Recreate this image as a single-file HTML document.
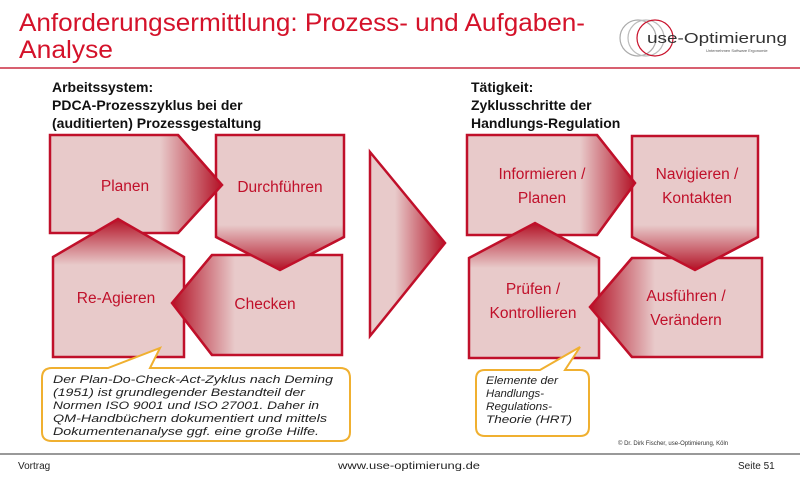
<!DOCTYPE html>
<html><head><meta charset="utf-8"><style>
body{margin:0;background:#fff;width:800px;height:474px;overflow:hidden;font-family:"Liberation Sans",sans-serif}
</style></head><body>
<svg width="800" height="474" xmlns="http://www.w3.org/2000/svg" font-family="Liberation Sans, sans-serif">
<defs>
<linearGradient id="gR1" gradientUnits="userSpaceOnUse" x1="160" y1="0" x2="222" y2="0"><stop offset="0" stop-color="#e8caca"/><stop offset="1" stop-color="#b31226"/></linearGradient>
<linearGradient id="gD1" gradientUnits="userSpaceOnUse" x1="0" y1="225" x2="0" y2="270"><stop offset="0" stop-color="#e8caca"/><stop offset="1" stop-color="#b31226"/></linearGradient>
<linearGradient id="gL1" gradientUnits="userSpaceOnUse" x1="235" y1="0" x2="172" y2="0"><stop offset="0" stop-color="#e8caca"/><stop offset="1" stop-color="#b31226"/></linearGradient>
<linearGradient id="gU1" gradientUnits="userSpaceOnUse" x1="0" y1="265" x2="0" y2="219"><stop offset="0" stop-color="#e8caca"/><stop offset="1" stop-color="#b31226"/></linearGradient>
<linearGradient id="gR2" gradientUnits="userSpaceOnUse" x1="580" y1="0" x2="635" y2="0"><stop offset="0" stop-color="#e8caca"/><stop offset="1" stop-color="#b31226"/></linearGradient>
<linearGradient id="gD2" gradientUnits="userSpaceOnUse" x1="0" y1="225" x2="0" y2="270"><stop offset="0" stop-color="#e8caca"/><stop offset="1" stop-color="#b31226"/></linearGradient>
<linearGradient id="gL2" gradientUnits="userSpaceOnUse" x1="655" y1="0" x2="590" y2="0"><stop offset="0" stop-color="#e8caca"/><stop offset="1" stop-color="#b31226"/></linearGradient>
<linearGradient id="gU2" gradientUnits="userSpaceOnUse" x1="0" y1="268" x2="0" y2="223"><stop offset="0" stop-color="#e8caca"/><stop offset="1" stop-color="#b31226"/></linearGradient>
<linearGradient id="gT" gradientUnits="userSpaceOnUse" x1="395" y1="0" x2="445" y2="0"><stop offset="0" stop-color="#e8caca"/><stop offset="1" stop-color="#b31226"/></linearGradient>
</defs>
<!-- header -->
<text x="19" y="31" font-size="25" fill="#d4122a" textLength="566" lengthAdjust="spacingAndGlyphs">Anforderungsermittlung: Prozess- und Aufgaben-</text>
<text x="19" y="58" font-size="25" fill="#d4122a" textLength="94" lengthAdjust="spacingAndGlyphs">Analyse</text>
<g fill="none" stroke-width="1.2">
<circle cx="638" cy="38" r="18" stroke="#aaa"/><circle cx="646" cy="38" r="18" stroke="#bbb"/><circle cx="655" cy="38" r="18" stroke="#c8102a"/>
</g>
<text x="647" y="43" font-size="15" fill="#333" textLength="140" lengthAdjust="spacingAndGlyphs">use-Optimierung</text>
<text x="706" y="52" font-size="4" fill="#555">Unternehmen Software Ergonomie</text>
<rect x="0" y="67" width="800" height="2" fill="#d86070"/>
<g font-size="14" font-weight="bold" fill="#111">
<text x="52" y="92">Arbeitssystem:</text><text x="52" y="110">PDCA-Prozesszyklus bei der</text><text x="52" y="128">(auditierten) Prozessgestaltung</text>
<text x="471" y="92">Tätigkeit:</text><text x="471" y="110">Zyklusschritte der</text><text x="471" y="128">Handlungs-Regulation</text>
</g>
<g stroke="#c0102a" stroke-width="2.5" stroke-linejoin="miter">
<!-- left -->
<polygon points="50,135 178,135 222,185 178,233 50,233" fill="url(#gR1)"/>
<polygon points="216,135 344,135 344,237 280,270 216,237" fill="url(#gD1)"/>
<polygon points="212,255 342,255 342,355 212,355 172,303" fill="url(#gL1)"/>
<polygon points="53,257 118,219 184,257 184,357 53,357" fill="url(#gU1)"/>
<polygon points="178,135 222,185 178,233" fill="url(#gR1)" stroke="none"/>
<polyline points="178,135 222,185 178,233" fill="none"/>
<polygon points="216,237 280,270 344,237" fill="url(#gD1)" stroke="none"/>
<polyline points="216,237 280,270 344,237" fill="none"/>
<polygon points="212,255 172,303 212,355" fill="url(#gL1)" stroke="none"/>
<polyline points="212,255 172,303 212,355" fill="none"/>
<polygon points="370,152 445,243 370,336" fill="url(#gT)"/>
<!-- right -->
<polygon points="467,135 597,135 635,183 597,235 467,235" fill="url(#gR2)"/>
<polygon points="632,136 758,136 758,237 695,270 632,237" fill="url(#gD2)"/>
<polygon points="632,258 762,258 762,357 632,357 590,307" fill="url(#gL2)"/>
<polygon points="469,258 535,223 599,258 599,358 469,358" fill="url(#gU2)"/>
<polygon points="597,135 635,183 597,235" fill="url(#gR2)" stroke="none"/>
<polyline points="597,135 635,183 597,235" fill="none"/>
<polygon points="632,237 695,270 758,237" fill="url(#gD2)" stroke="none"/>
<polyline points="632,237 695,270 758,237" fill="none"/>
<polygon points="632,258 590,307 632,357" fill="url(#gL2)" stroke="none"/>
<polyline points="632,258 590,307 632,357" fill="none"/>
</g>
<g fill="#c0102a" font-size="15.5" text-anchor="middle">
<text x="125" y="191">Planen</text><text x="280" y="192">Durchführen</text>
<text x="116" y="303">Re-Agieren</text><text x="265" y="309">Checken</text>
<text x="542" y="179">Informieren /</text><text x="542" y="203">Planen</text>
<text x="697" y="179">Navigieren /</text><text x="697" y="203">Kontakten</text>
<text x="533" y="294">Prüfen /</text><text x="533" y="318">Kontrollieren</text>
<text x="686" y="301">Ausführen /</text><text x="686" y="325">Verändern</text>
</g>
<!-- callouts -->
<path d="M52,368 H108 L160,348 L150,368 H340 Q350,368 350,378 V432 Q350,441 340,441 H52 Q42,441 42,432 V378 Q42,368 52,368 Z" fill="#fff" stroke="#f0b030" stroke-width="2"/>
<g font-size="11" font-style="italic" fill="#222">
<text x="53" y="383" textLength="280" lengthAdjust="spacingAndGlyphs">Der Plan-Do-Check-Act-Zyklus nach Deming</text>
<text x="53" y="396" textLength="252" lengthAdjust="spacingAndGlyphs">(1951) ist grundlegender Bestandteil der</text>
<text x="53" y="409" textLength="266" lengthAdjust="spacingAndGlyphs">Normen ISO 9001 und ISO 27001. Daher in</text>
<text x="53" y="422" textLength="274" lengthAdjust="spacingAndGlyphs">QM-Handbüchern dokumentiert und mittels</text>
<text x="53" y="435" textLength="266" lengthAdjust="spacingAndGlyphs">Dokumentenanalyse ggf. eine große Hilfe.</text>
</g>
<path d="M485,370 H540 L580,347 L565,370 H580 Q589,370 589,379 V427 Q589,436 580,436 H485 Q476,436 476,427 V379 Q476,370 485,370 Z" fill="#fff" stroke="#f0b030" stroke-width="2"/>
<g font-size="11" font-style="italic" fill="#222">
<text x="486" y="384" textLength="72" lengthAdjust="spacingAndGlyphs">Elemente der</text><text x="486" y="397" textLength="58" lengthAdjust="spacingAndGlyphs">Handlungs-</text><text x="486" y="410" textLength="66" lengthAdjust="spacingAndGlyphs">Regulations-</text><text x="486" y="423" textLength="86" lengthAdjust="spacingAndGlyphs">Theorie (HRT)</text>
</g>
<text x="618" y="445" font-size="6" fill="#333">© Dr. Dirk Fischer, use-Optimierung, Köln</text>
<rect x="0" y="453" width="800" height="2" fill="#999"/>
<g font-size="10" fill="#222"><text x="18" y="469">Vortrag</text><text x="338" y="469" textLength="142" lengthAdjust="spacingAndGlyphs">www.use-optimierung.de</text><text x="738" y="469">Seite 51</text></g>
</svg>
</body></html>
